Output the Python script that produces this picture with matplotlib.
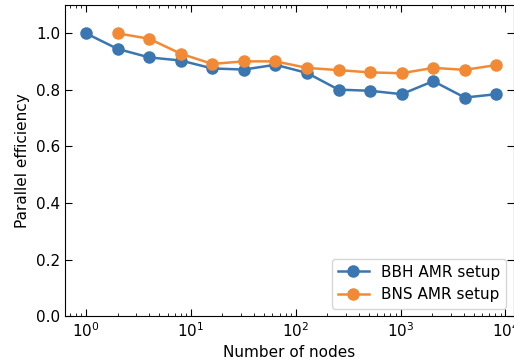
import numpy as np
import matplotlib
matplotlib.use("Agg")
import matplotlib.pyplot as plt

# data
bbh_nodes = [1, 2, 4, 8, 16, 32, 64, 128, 256, 512, 1024, 2048, 4096, 8192]
bbh_eff = [1.0, 0.945, 0.915, 0.904, 0.876, 0.872, 0.889, 0.860, 0.801,
           0.797, 0.785, 0.831, 0.773, 0.785]

bns_nodes = [2, 4, 8, 16, 32, 64, 128, 256, 512, 1024, 2048, 4096, 8192]
bns_eff = [1.0, 0.981, 0.928, 0.892, 0.901, 0.901, 0.878, 0.870, 0.862,
           0.859, 0.878, 0.871, 0.888]

fig = plt.figure(figsize=(5.14, 3.63), dpi=100)
ax = fig.add_axes([0.1265, 0.129, 0.873, 0.857])

ax.plot(bbh_nodes, bbh_eff, "-o", color="#3a76b0", lw=1.8, ms=8,
        label="BBH AMR setup")
ax.plot(bns_nodes, bns_eff, "-o", color="#f28a35", lw=1.8, ms=8,
        label="BNS AMR setup")

ax.set_xscale("log")
ax.set_xlim(0.63, 12000)
ax.set_ylim(0.0, 1.1)
ax.set_yticks([0.0, 0.2, 0.4, 0.6, 0.8, 1.0])

ax.tick_params(which="both", direction="in", top=True, right=True,
               labelsize=11)
ax.tick_params(which="major", length=5)
ax.tick_params(which="minor", length=2.5)

ax.set_xlabel("Number of nodes", fontsize=11)
ax.set_ylabel("Parallel efficiency", fontsize=11)

ax.legend(loc="lower right", fontsize=11)

fig.savefig("out.png", dpi=100)
